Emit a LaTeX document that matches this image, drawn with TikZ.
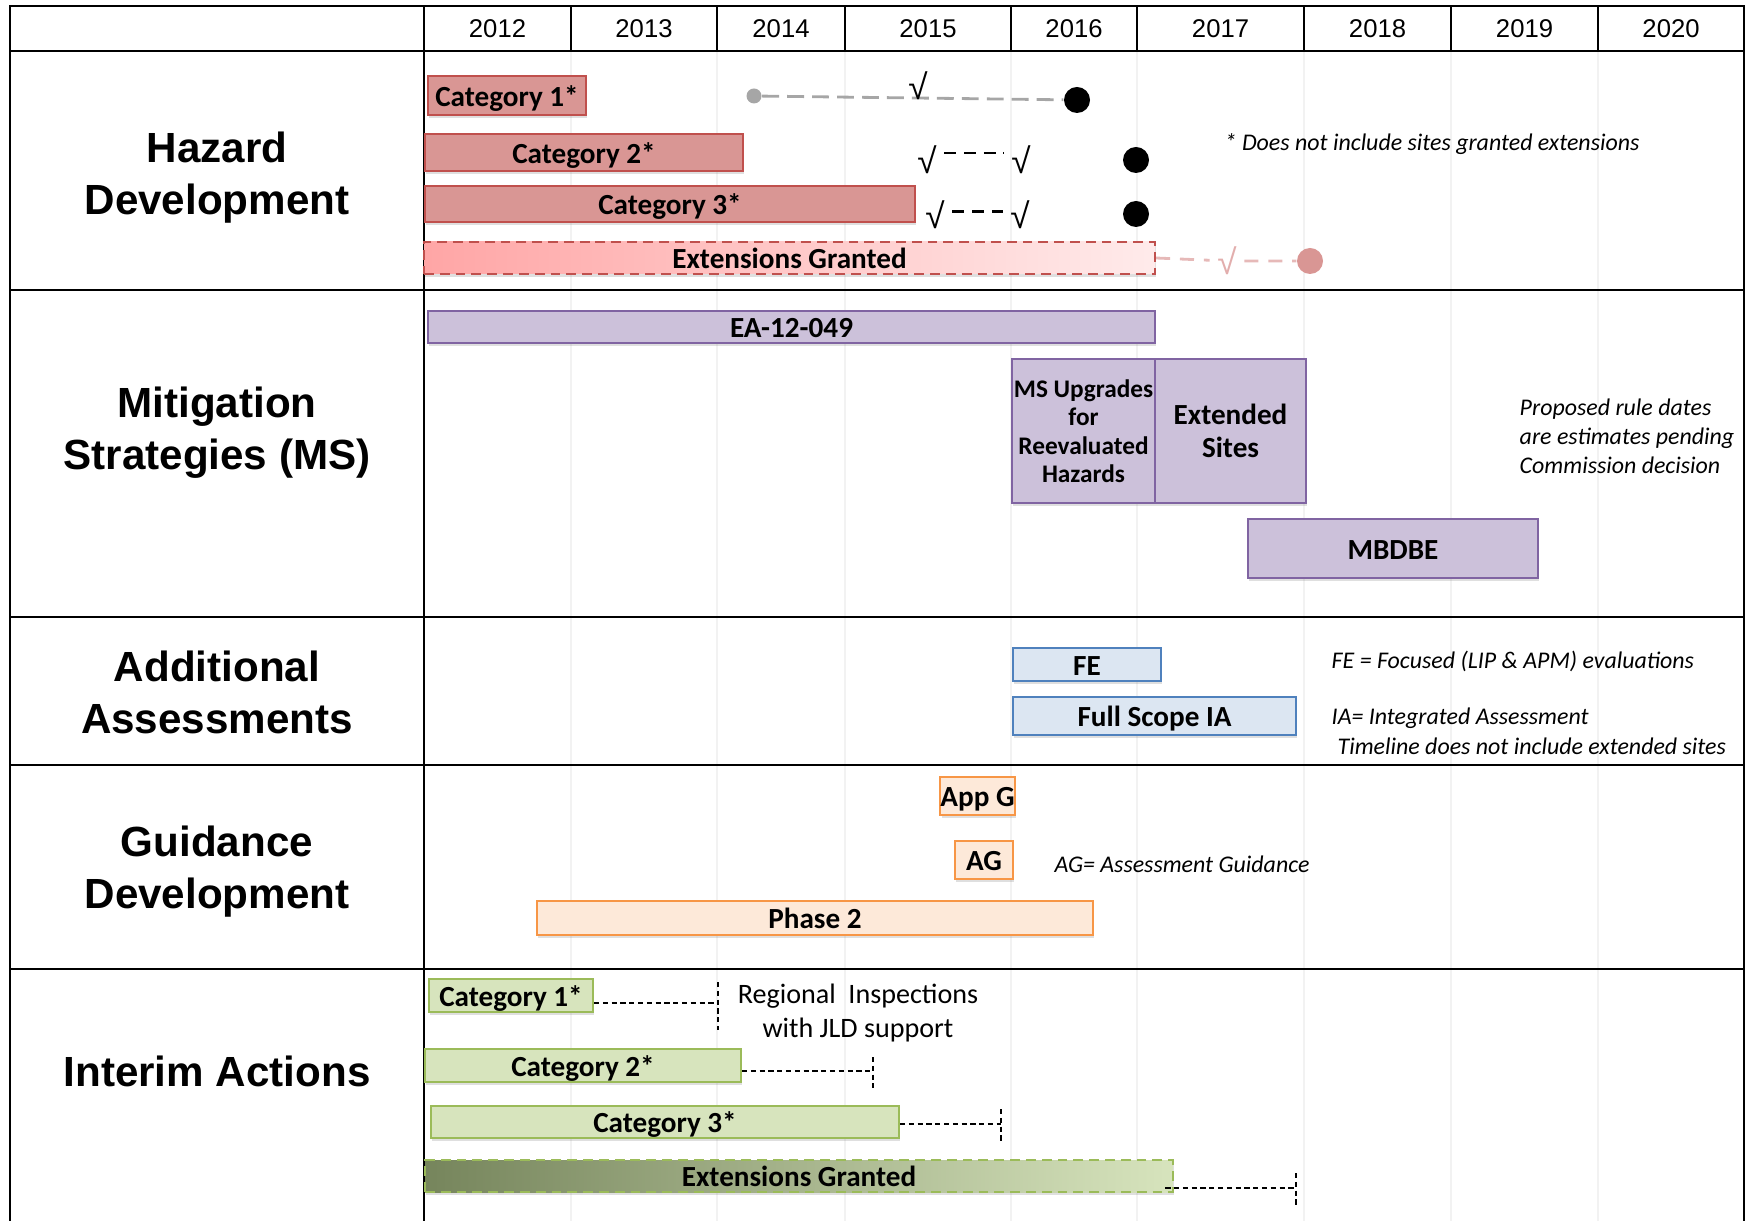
\documentclass[tikz,border=0pt]{standalone}
\usepackage{fontspec}
\setmainfont{Carlito}
\newfontfamily\arialfont{Liberation Sans}
\usepackage{tikz}
\usetikzlibrary{positioning, shadows}
\definecolor{hzfill}{HTML}{D99694}
\definecolor{hzline}{HTML}{C0504D}
\definecolor{hzpale}{HTML}{E6B9B8}
\definecolor{msfill}{HTML}{CCC1DA}
\definecolor{msline}{HTML}{8064A2}
\definecolor{aafill}{HTML}{DCE6F2}
\definecolor{aaline}{HTML}{4F81BD}
\definecolor{gdfill}{HTML}{FDE9D9}
\definecolor{gdline}{HTML}{F79646}
\definecolor{iafill}{HTML}{D7E4BD}
\definecolor{ialine}{HTML}{9BBB59}
\definecolor{iadark}{HTML}{76855C}
\tikzset{
x=0.1mm, y=-0.1mm, % one unit is one pixel of the chart, y runs down
frame/.style={line width=0.75pt}, % lines of the table
gridline/.style={black!5, line width=0.8pt}, % faint year lines
yearlbl/.style={font=\arialfont\fontsize{7.3}{9}\selectfont},
rowlbl/.style={font=\arialfont\bfseries\fontsize{12}{14.8}\selectfont, align=center},
span/.style 2 args={minimum width=#1*0.1mm, minimum height=#2*0.1mm},
bar/.style={draw, line width=0.6pt, inner sep=0pt, align=center,
  font=\bfseries\fontsize{8.3}{9.5}\selectfont, text height=7.3pt, text depth=1.2pt,
  drop shadow={shadow xshift=0.4pt, shadow yshift=-0.9pt, opacity=0.25}},
hzbar/.style={bar, fill=hzfill, draw=hzline},
msbar/.style={bar, fill=msfill, draw=msline},
aabar/.style={bar, fill=aafill, draw=aaline},
gdbar/.style={bar, fill=gdfill, draw=gdline},
iabar/.style={bar, fill=iafill, draw=ialine},
note/.style={font=\itshape\fontsize{6.8}{8.2}\selectfont, align=left, inner sep=0pt},
chk/.style={font=\arialfont\fontsize{10}{11}\selectfont, inner xsep=2pt, inner ysep=0pt},
bigdot/.style={circle, fill=black, inner sep=0pt, minimum size=26*0.1mm},
leader/.style={dash pattern=on 1.5pt off 1pt, line width=0.5pt}, % interim dashes
}
\begin{document}
\begin{tikzpicture}
\useasboundingbox (0,0) rectangle (1746,1221);
% years and grid
\foreach \xa/\xb/\yr in {424/571/2012, 571/717/2013, 717/845/2014, 845/1011/2015,
  1011/1137/2016, 1137/1304/2017, 1304/1451/2018, 1451/1598/2019, 1598/1744/2020} {
  \node[yearlbl] (y\yr) at ({(\xa+\xb)/2},29) {\yr};
  \draw[gridline] (\xb,51) -- (\xb,1221);
  \draw[frame] (\xb,6) -- (\xb,51);
}
\draw[frame] (10,1221) -- (10,6) -- (1744,6) -- (1744,1221);
\draw[frame] (424,6) -- (424,1221);
\foreach \yy in {51,290,617,765,969}
  \draw[frame] (10,\yy) -- (1744,\yy);

% row titles
\node[rowlbl] (lhazard) at (217,178) {Hazard\\Development};
\node[rowlbl] (lmitig) at (217,433) {Mitigation\\Strategies (MS)};
\node[rowlbl] (lassess) at (217,692) {Additional\\Assessments};
\node[rowlbl] (lguide) at (217,872) {Guidance\\Development};
\node[rowlbl] (linterim) at (217,1071) {Interim Actions};

% hazard development
\node[hzbar, span={158}{39}] (hz1) at (507,95.5) {Category 1*};
\node[hzbar, span={318}{37}] (hz2) at (584,152.5) {Category 2*};
\node[hzbar, span={490}{36}] (hz3) at (670,204) {Category 3*};
\node[hzbar, span={731}{32}, dash pattern=on 2.8pt off 1.7pt,
  left color=red!35, right color=red!8] (hzext) at (789.5,258) {Extensions Granted};

\node[circle, fill=black!35, inner sep=0pt, minimum size=15*0.1mm] (gdot) at (754,96) {};
\node[bigdot] (bdot1) at (1077,100) {};
\draw[black!35, line width=0.8pt, dash pattern=on 4.8pt off 2.3pt] (gdot) -- (bdot1);
\node[chk] (chk1) at (918,86) {√};

\node[chk] (chk2a) at (927,160) {√};
\node[chk] (chk2b) at (1021,160) {√};
\node[bigdot] (bdot2) at (1136,160) {};
\draw[line width=0.6pt, dash pattern=on 3.4pt off 2.2pt] ([yshift=2pt]chk2a.east) -- ([yshift=2pt]chk2b.west);

\node[chk] (chk3a) at (935,215) {√};
\node[chk] (chk3b) at (1020,215) {√};
\node[bigdot] (bdot3) at (1136,214) {};
\draw[line width=0.6pt, dash pattern=on 3.4pt off 2.2pt] ([yshift=1pt]chk3a.east) -- ([yshift=1pt]chk3b.west);

\node[chk, text=hzpale!70!hzfill] (pchk) at (1227,261) {√};
\node[bigdot, fill=hzfill] (pdot) at (1310,261) {};
\draw[hzpale, line width=0.8pt, dash pattern=on 4pt off 2.8pt] (hzext.east) -- (pchk) -- (pdot);

\node[note, anchor=west] (nhz) at (1224,144) {* Does not include sites granted extensions};

% mitigation strategies
\node[msbar, span={727}{32}] (ea) at (791.5,327) {EA-12-049};
\node[msbar, span={143}{144}, text height={}, text depth={},
  font=\bfseries\fontsize{7.2}{8.1}\selectfont] (msup) at (1083.5,431)
  {MS Upgrades\\for\\Reevaluated\\Hazards};
\node[msbar, span={151}{144}, text height={}, text depth={},
  font=\bfseries\fontsize{8.3}{9.2}\selectfont] (msext) at (1230.5,431)
  {Extended\\Sites};
\node[msbar, span={290}{59}] (mbdbe) at (1393,548.5) {MBDBE};
\node[note, anchor=west] (nms) at (1519,436)
  {Proposed rule dates\\are estimates pending\\Commission decision};

% additional assessments
\node[aabar, span={148}{33}] (fe) at (1087,664.5) {FE};
\node[aabar, span={283}{38}] (ia) at (1154.5,716) {Full Scope IA};
\node[note, anchor=west] (nfe) at (1331,661) {FE = Focused (LIP \& APM) evaluations};
\node[note, anchor=west] (nia) at (1331,718) {IA= Integrated Assessment};
\node[note, anchor=west] (ntl) at (1337,746) {Timeline does not include extended sites};

% guidance development
\node[gdbar, span={71}{38}] (appg) at (977.5,796) {App G};
\node[gdbar, span={58}{38}] (ag) at (984,860) {AG};
\node[gdbar, span={556}{34}] (ph2) at (815,918) {Phase 2};
\node[note, anchor=west] (nag) at (1054,864) {AG= Assessment Guidance};

% interim actions
\node[iabar, span={164}{33}] (ia1) at (511,995.5) {Category 1*};
\node[iabar, span={316}{33}] (ia2) at (583,1065.5) {Category 2*};
\node[iabar, span={468}{32}] (ia3) at (665,1122) {Category 3*};
\node[iabar, span={748}{32}, dash pattern=on 2.8pt off 1.7pt,
  left color=iadark, right color=iafill] (iaext) at (799,1176) {Extensions Granted};

\coordinate (e1) at (718,1003); \coordinate (e1a) at (718,982); \coordinate (e1b) at (718,1030);
\coordinate (e2) at (873,1071); \coordinate (e2a) at (873,1057); \coordinate (e2b) at (873,1088);
\coordinate (e3) at (1001,1124); \coordinate (e3a) at (1001,1109); \coordinate (e3b) at (1001,1142);
\coordinate (e4) at (1296,1188); \coordinate (e4a) at (1296,1173); \coordinate (e4b) at (1296,1205);
\draw[leader] (ia1.east |- e1) -- (e1) (e1a) -- (e1b);
\draw[leader] (ia2.east |- e2) -- (e2) (e2a) -- (e2b);
\draw[leader] (ia3.east |- e3) -- (e3) (e3a) -- (e3b);
\draw[leader] ([xshift=-2.5pt]iaext.east |- e4) -- (e4) (e4a) -- (e4b);

\node[font=\fontsize{8}{9.5}\selectfont, align=center] (rinsp) at (858,1013)
  {Regional\ \ Inspections\\with JLD support};
\end{tikzpicture}
\end{document}
